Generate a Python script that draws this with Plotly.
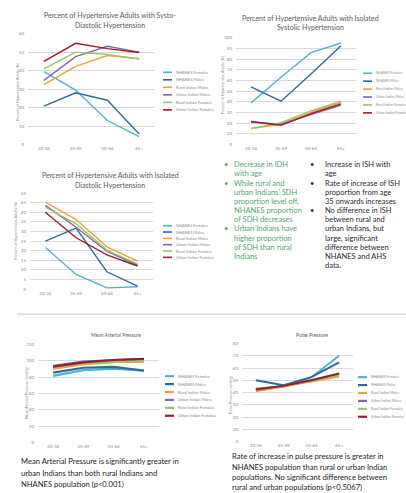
import plotly.graph_objects as go

W, H = 406, 493

# ---- data -------------------------------------------------------------
AGE_GROUPS = ["20-34", "35-49", "50-64", "65+"]
SERIES_NAMES = ["NHANES Females", "NHANES Males", "Rural Indian Males",
                "Urban Indian Males", "Rural Indian Females", "Urban Indian Females"]

# Systo-diastolic hypertension (% of hypertensive adults)
sdh_values = [
    [39.5, 29.5, 13.0, 4.3],
    [20.8, 28.0, 24.0, 5.7],
    [32.4, 42.3, 48.2, 46.6],
    [34.7, 47.6, 53.2, 50.0],
    [41.0, 50.0, 48.7, 46.2],
    [45.0, 54.8, 51.9, 49.8],
]
# Isolated systolic hypertension (%)
ish_values = [
    [39.0, 63.0, 86.0, 95.0],
    [54.0, 40.5, 66.0, 92.5],
    [15.0, 19.0, 30.0, 39.5],
    [21.0, 19.0, 28.0, 37.0],
    [15.0, 20.5, 31.5, 40.5],
    [21.5, 18.0, 29.0, 38.0],
]
# Isolated diastolic hypertension (%)
idh_values = [
    [21.6, 7.6, 0.6, 1.2],
    [25.0, 31.8, 9.0, 1.5],
    [45.3, 36.2, 22.0, 14.5],
    [43.6, 32.2, 19.7, 12.4],
    [42.6, 34.0, 20.3, 13.0],
    [40.0, 26.7, 17.8, 12.0],
]
# Mean arterial pressure (mmHg)
map_values = [
    [81.5, 88.5, 90.5, 88.0],
    [85.5, 91.5, 92.5, 88.0],
    [90.5, 95.5, 98.5, 99.0],
    [94.0, 99.0, 101.0, 102.0],
    [91.5, 96.5, 99.0, 99.5],
    [93.0, 98.0, 101.0, 102.5],
]
# Pulse pressure (mmHg)
pp_values = [
    [41.5, 45.0, 52.5, 70.0],
    [50.0, 46.0, 52.5, 64.5],
    [41.0, 45.0, 49.0, 53.0],
    [43.0, 45.0, 50.0, 55.0],
    [42.0, 45.0, 49.5, 54.0],
    [42.5, 45.5, 50.0, 55.5],
]

SDH_TITLE = ["Percent of Hypertensive Adults with Systo-", "Diastolic Hypertension"]
ISH_TITLE = ["Percent of Hypertensive Adults with Isolated", "Systolic Hypertension"]
IDH_TITLE = ["Percent of Hypertensive Adults with Isolated", "Diastolic Hypertension"]
MAP_TITLE = ["Mean Arterial Pressure"]
PP_TITLE = ["Pulse Pressure"]
PCT_LABEL = "Percent of Hypertensive Adults (%)"

GREEN_NOTES = [
    (True, "Decrease in IDH"), (False, "with age"),
    (True, "While rural and"), (False, "urban Indians' SDH"),
    (False, "proportion level off,"), (False, "NHANES proportion"),
    (False, "of SDH decreases"),
    (True, "Urban Indians have"), (False, "higher proportion"),
    (False, "of SDH than rural"), (False, "Indians"),
]
DARK_NOTES = [
    (True, "Increase in ISH with"), (False, "age"),
    (True, "Rate of increase of ISH"), (False, "proportion from age"),
    (False, "35 onwards increases"),
    (True, "No difference in ISH"), (False, "between rural and"),
    (False, "urban Indians, but"), (False, "large, significant"),
    (False, "difference between"), (False, "NHANES and AHS"),
    (False, "data."),
]
MAP_NOTE = ["Mean Arterial Pressure is significantly greater in",
            "urban Indians than both rural Indians and",
            "NHANES population (p<0.001)"]
PP_NOTE = ["Rate of increase in pulse pressure is greater in",
           "NHANES population than rural or urban Indian",
           "populations. No significant difference between",
           "rural and urban populations (p<0.5067)"]

# ---- styling -----------------------------------------------------------
COLORS = ["#4db4d0", "#2f6b98", "#eda23e", "#8466a9", "#9dc36b", "#9a1e27"]
FONT = "Lato"
GRID = "#d9d9d9"
TICK = "#8a8a8a"
TITLE_C = "#5a5a5a"

# panel geometry in pixels: plot box, y range, title rows, legend, axis title
panels = [
    dict(data=sdh_values, title=SDH_TITLE, ytitle=PCT_LABEL,
         x0=28, x1=155, ytop=32, ybot=144, ymax=60, dtick=10, lw=1.4,
         title_x=110, title_y=[13, 23], title_size=7,
         leg_x=163, leg_y=71, leg_dy=7.6, leg_size=4, yt_x=17, yt_y=91),
    dict(data=ish_values, title=ISH_TITLE, ytitle=PCT_LABEL,
         x0=236, x1=356, ytop=36, ybot=144, ymax=100, dtick=10, lw=1.4,
         title_x=310, title_y=[16, 25], title_size=7,
         leg_x=363, leg_y=72, leg_dy=8.0, leg_size=3.3, yt_x=222, yt_y=84),
    dict(data=idh_values, title=IDH_TITLE, ytitle=PCT_LABEL,
         x0=30, x1=153, ytop=193, ybot=290, ymax=50, dtick=5, lw=1.4,
         title_x=110, title_y=[175, 185], title_size=7,
         leg_x=163, leg_y=226, leg_dy=6.4, leg_size=4, yt_x=16, yt_y=231),
    dict(data=map_values, title=MAP_TITLE, ytitle="Mean Arterial Pressure (mmHg)",
         x0=38, x1=159, ytop=346, ybot=445, ymax=120, dtick=20, lw=2.2,
         title_x=116, title_y=[336], title_size=5,
         leg_x=165, leg_y=378, leg_dy=8.0, leg_size=4, yt_x=27, yt_y=395),
    dict(data=pp_values, title=PP_TITLE, ytitle="Pulse Pressure (mmHg)",
         x0=242, x1=353, ytop=345, ybot=444, ymax=80, dtick=10, lw=2.0,
         title_x=312, title_y=[336], title_size=5,
         leg_x=358, leg_y=379, leg_dy=8.0, leg_size=3.5, yt_x=231, yt_y=397),
]


def px(x):
    return x / W


def py(y):
    return 1 - y / H


fig = go.Figure()
annotations = []
shapes = []
layout_axes = {}

for i, p in enumerate(panels, start=1):
    xa = "x" if i == 1 else f"x{i}"
    ya = "y" if i == 1 else f"y{i}"
    for s, (name, vals) in enumerate(zip(SERIES_NAMES, p["data"])):
        fig.add_trace(go.Scatter(
            x=AGE_GROUPS, y=vals, name=name, mode="lines",
            line=dict(color=COLORS[s], width=p["lw"]),
            xaxis=xa, yaxis=ya, showlegend=False, hoverinfo="skip"))

    layout_axes["xaxis" if i == 1 else f"xaxis{i}"] = dict(
        domain=[px(p["x0"]), px(p["x1"])], anchor=ya, type="category",
        categoryorder="array", categoryarray=AGE_GROUPS, range=[-0.5, 3.5],
        showgrid=False, zeroline=False, showline=False, ticks="",
        tickfont=dict(size=4.5, color=TICK, family=FONT), fixedrange=True)
    layout_axes["yaxis" if i == 1 else f"yaxis{i}"] = dict(
        domain=[py(p["ybot"]), py(p["ytop"])], anchor=xa,
        range=[0, p["ymax"]], dtick=p["dtick"], tick0=0,
        showgrid=True, gridcolor=GRID, gridwidth=0.8, zeroline=False,
        showline=False, ticks="", ticklabelstandoff=3,
        tickfont=dict(size=4.5, color=TICK, family=FONT), fixedrange=True)

    # chart title
    for line, yy in zip(p["title"], p["title_y"]):
        annotations.append(dict(
            text=line, x=px(p["title_x"]), y=py(yy), xref="paper", yref="paper",
            xanchor="center", yanchor="middle", showarrow=False,
            font=dict(size=p["title_size"], color=TITLE_C, family=FONT)))
    # rotated axis title
    annotations.append(dict(
        text=p["ytitle"], x=px(p["yt_x"]), y=py(p["yt_y"]), xref="paper",
        yref="paper", xanchor="center", yanchor="middle", textangle=-90,
        showarrow=False, font=dict(size=3.8, color=TICK, family=FONT)))
    # legend keys
    for s, name in enumerate(SERIES_NAMES):
        ly = p["leg_y"] + s * p["leg_dy"]
        shapes.append(dict(
            type="line", xref="paper", yref="paper",
            x0=px(p["leg_x"]), x1=px(p["leg_x"] + 9), y0=py(ly), y1=py(ly),
            line=dict(color=COLORS[s], width=1.6 if p["lw"] < 2 else 2.2)))
        annotations.append(dict(
            text=name, x=px(p["leg_x"] + 10.5), y=py(ly), xref="paper",
            yref="paper", xanchor="left", yanchor="middle", showarrow=False,
            font=dict(size=p["leg_size"], color=TICK, family=FONT)))

# separator rule between the upper and lower sections
shapes.append(dict(type="line", xref="paper", yref="paper",
                   x0=px(17), x1=px(406), y0=py(315.5), y1=py(315.5),
                   line=dict(color="#e6d4d7", width=1.5)))


def bullet_column(items, bullet_x, text_x, y_start, dy, color):
    y = y_start
    for is_bullet, text in items:
        if is_bullet:
            annotations.append(dict(
                text="•", x=px(bullet_x), y=py(y), xref="paper", yref="paper",
                xanchor="center", yanchor="middle", showarrow=False,
                font=dict(size=7.5, color=color, family=FONT)))
        annotations.append(dict(
            text=text, x=px(text_x), y=py(y), xref="paper", yref="paper",
            xanchor="left", yanchor="middle", showarrow=False,
            font=dict(size=7.5, color=color, family=FONT)))
        y += dy


bullet_column(GREEN_NOTES, 226, 232, 164.5, 9.25, "#4fa76e")
bullet_column(DARK_NOTES, 312, 323, 164.5, 9.25, "#2b2b2b")

for text, yy in zip(MAP_NOTE, [464, 475.5, 487]):
    annotations.append(dict(
        text=text, x=px(19), y=py(yy), xref="paper", yref="paper",
        xanchor="left", yanchor="middle", showarrow=False,
        font=dict(size=7.6, color="#1e1e1e", family=FONT)))
for text, yy in zip(PP_NOTE, [459, 469.5, 480, 490]):
    annotations.append(dict(
        text=text, x=px(230), y=py(yy), xref="paper", yref="paper",
        xanchor="left", yanchor="middle", showarrow=False,
        font=dict(size=7.6, color="#1e1e1e", family=FONT)))

fig.update_layout(
    width=W, height=H, margin=dict(l=0, r=0, t=0, b=0),
    paper_bgcolor="white", plot_bgcolor="white",
    font=dict(family=FONT), showlegend=False,
    annotations=annotations, shapes=shapes, **layout_axes)

fig.write_html("out.html", config={"displayModeBar": False})
